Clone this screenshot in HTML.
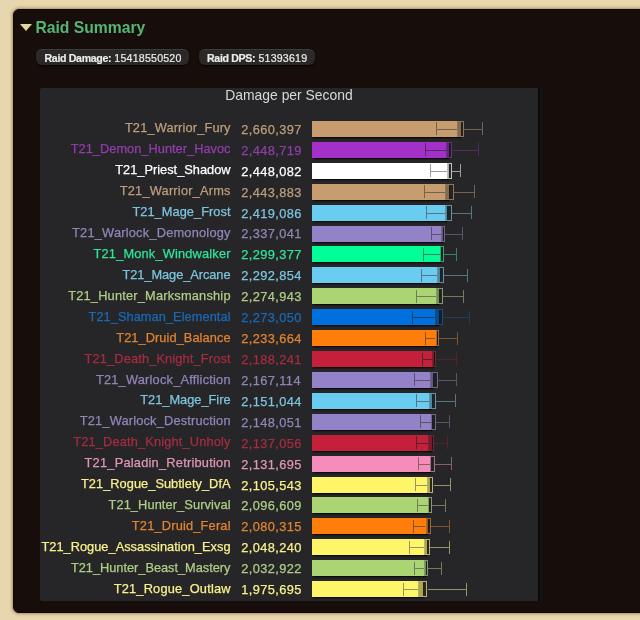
<!DOCTYPE html>
<html><head><meta charset="utf-8">
<style>
html,body{margin:0;padding:0;width:640px;height:620px;overflow:hidden;}
body{background:#e8d6ae;font-family:"Liberation Sans",sans-serif;position:relative;}
.wrap{position:absolute;left:0;top:0;width:640px;height:620px;overflow:hidden;will-change:transform;}
.panel{position:absolute;left:12.5px;top:9.2px;width:700px;height:604.3px;box-sizing:border-box;background:#170e0c;border:1px solid #0e0807;border-radius:6px;box-shadow:0 0 3px 1px rgba(70,50,25,0.45);}
.tri{position:absolute;left:20px;top:24px;width:0;height:0;border-left:6.6px solid transparent;border-right:6.6px solid transparent;border-top:7.2px solid #e3d79c;}
.title{position:absolute;left:35.4px;top:18.2px;font-weight:bold;font-size:15.7px;line-height:20px;color:#56b575;white-space:nowrap;}
.badge{position:absolute;top:48.7px;height:16.5px;border-radius:6px;background:#2b2828;color:#ececec;font-size:10.6px;line-height:17px;white-space:nowrap;box-shadow:0 1px 1.5px rgba(0,0,0,0.8), inset 0 1px 0 rgba(255,255,255,0.09);}
.badge b{font-weight:bold;letter-spacing:-0.33px;}
.badge span{-webkit-text-stroke:0.2px currentColor;letter-spacing:0.22px;}
.chart{position:absolute;left:40px;top:88px;width:498px;height:512.6px;background:#262527;border-radius:2px 1px 1px 2px;box-shadow:2px 0 0 #0c0b0b, 5px 0 0 #141212;}
.ctitle{position:absolute;left:40px;width:498px;top:85px;text-align:center;font-size:13.9px;line-height:20px;color:#d8d8d8;}
.lab{position:absolute;right:409.5px;font-size:12.8px;line-height:20px;white-space:nowrap;-webkit-text-stroke:0.25px currentColor;}
.val{position:absolute;left:241.2px;font-size:12.8px;line-height:20px;letter-spacing:0.42px;white-space:nowrap;-webkit-text-stroke:0.25px currentColor;}
.bar{position:absolute;height:16px;box-shadow:0.5px 1.5px 1.5px rgba(0,0,0,0.7);}
.si{position:absolute;height:1px;background:rgba(0,0,0,0.45);}
.wi{position:absolute;width:1px;background:rgba(0,0,0,0.45);}
.box{position:absolute;height:16px;box-sizing:border-box;border:1px solid #999;background:rgba(0,0,0,0.28);}
.so{position:absolute;height:1px;background:rgba(150,150,150,0.75);}
.wo{position:absolute;width:1px;background:rgba(150,150,150,0.75);}
</style></head><body>
<div class="wrap">
<div class="panel"></div>
<div class="tri"></div>
<div class="title">Raid Summary</div>
<div class="badge" style="left:36px;width:153px;"><span style="position:absolute;left:8.5px;top:0.9px"><b>Raid Damage:</b> 15418550520</span></div>
<div class="badge" style="left:199px;width:116px;"><span style="position:absolute;left:8px;top:0.9px"><b>Raid DPS:</b> 51393619</span></div>
<div class="chart"></div>
<div class="ctitle">Damage per Second</div>
<div class="lab" style="top:118.46px;color:rgb(189,158,125);letter-spacing:0.15px;right:409.35px">T21_Warrior_Fury</div>
<div class="val" style="top:119.86px;color:rgb(189,158,125)">2,660,397</div>
<div class="bar" style="top:120.9px;left:312.3px;width:148.45px;background:#c79c6e"></div>
<div class="si" style="top:128.9px;left:436.25px;width:20.75px;background:rgb(112,99,84)"></div>
<div class="wi" style="top:122.4px;left:435.75px;height:13.0px;background:rgb(112,99,84)"></div>
<div class="box" style="top:120.9px;left:457.0px;width:7.0px;border-color:rgb(135,119,102);background:rgba(39,31,22,0.4)"></div>
<div class="so" style="top:128.9px;left:464.0px;width:18.0px;background:rgb(112,99,84)"></div>
<div class="wo" style="top:122.4px;left:481.5px;height:13.0px;background:rgb(112,99,84)"></div>
<div class="lab" style="top:139.38px;color:rgb(145,62,172);letter-spacing:0.02px;right:409.48px">T21_Demon_Hunter_Havoc</div>
<div class="val" style="top:140.78px;color:rgb(145,62,172)">2,448,719</div>
<div class="bar" style="top:141.82px;left:312.3px;width:136.64px;background:#a330c9"></div>
<div class="si" style="top:149.82px;left:425.6px;width:20.0px;background:rgb(81,45,93)"></div>
<div class="wi" style="top:143.32px;left:425.1px;height:13.0px;background:rgb(81,45,93)"></div>
<div class="box" style="top:141.82px;left:445.6px;width:6.4px;border-color:rgb(98,55,112);background:rgba(32,9,40,0.4)"></div>
<div class="so" style="top:149.82px;left:452.0px;width:26.75px;background:rgb(81,45,93)"></div>
<div class="wo" style="top:143.32px;left:478.25px;height:13.0px;background:rgb(81,45,93)"></div>
<div class="lab" style="top:160.3px;color:rgb(255,255,255);letter-spacing:0.0px;right:409.5px">T21_Priest_Shadow</div>
<div class="val" style="top:161.7px;color:rgb(255,255,255)">2,448,082</div>
<div class="bar" style="top:162.74px;left:312.3px;width:136.6px;background:#ffffff"></div>
<div class="si" style="top:170.74px;left:430.0px;width:17.1px;background:rgb(158,158,158)"></div>
<div class="wi" style="top:164.24px;left:429.5px;height:13.0px;background:rgb(158,158,158)"></div>
<div class="box" style="top:162.74px;left:447.1px;width:4.5px;border-color:rgb(191,191,191);background:rgba(51,51,51,0.4)"></div>
<div class="so" style="top:170.74px;left:451.6px;width:8.8px;background:rgb(158,158,158)"></div>
<div class="wo" style="top:164.24px;left:459.9px;height:13.0px;background:rgb(158,158,158)"></div>
<div class="lab" style="top:181.22px;color:rgb(189,158,125);letter-spacing:0.21px;right:409.29px">T21_Warrior_Arms</div>
<div class="val" style="top:182.62px;color:rgb(189,158,125)">2,443,883</div>
<div class="bar" style="top:183.66px;left:312.3px;width:136.37px;background:#c79c6e"></div>
<div class="si" style="top:191.66px;left:424.5px;width:20.0px;background:rgb(112,99,84)"></div>
<div class="wi" style="top:185.16px;left:424.0px;height:13.0px;background:rgb(112,99,84)"></div>
<div class="box" style="top:183.66px;left:444.5px;width:9.0px;border-color:rgb(135,119,102);background:rgba(39,31,22,0.4)"></div>
<div class="so" style="top:191.66px;left:453.5px;width:20.7px;background:rgb(112,99,84)"></div>
<div class="wo" style="top:185.16px;left:473.7px;height:13.0px;background:rgb(112,99,84)"></div>
<div class="lab" style="top:202.14px;color:rgb(125,196,222);letter-spacing:0.05px;right:409.45px">T21_Mage_Frost</div>
<div class="val" style="top:203.54px;color:rgb(125,196,222)">2,419,086</div>
<div class="bar" style="top:204.58px;left:312.3px;width:134.98px;background:#69ccf0"></div>
<div class="si" style="top:212.58px;left:426.5px;width:18.0px;background:rgb(87,118,129)"></div>
<div class="wi" style="top:206.08px;left:426.0px;height:13.0px;background:rgb(87,118,129)"></div>
<div class="box" style="top:204.58px;left:444.5px;width:7.1px;border-color:rgb(106,143,156);background:rgba(21,40,48,0.4)"></div>
<div class="so" style="top:212.58px;left:451.6px;width:20.0px;background:rgb(87,118,129)"></div>
<div class="wo" style="top:206.08px;left:471.1px;height:13.0px;background:rgb(87,118,129)"></div>
<div class="lab" style="top:223.06px;color:rgb(146,133,184);letter-spacing:0.22px;right:409.28px">T21_Warlock_Demonology</div>
<div class="val" style="top:224.46px;color:rgb(146,133,184)">2,337,041</div>
<div class="bar" style="top:225.5px;left:312.3px;width:130.41px;background:#9482c9"></div>
<div class="si" style="top:233.5px;left:431.0px;width:9.6px;background:rgb(90,84,106)"></div>
<div class="wi" style="top:227.0px;left:430.5px;height:13.0px;background:rgb(90,84,106)"></div>
<div class="box" style="top:225.5px;left:440.6px;width:4.4px;border-color:rgb(109,102,129);background:rgba(29,26,40,0.4)"></div>
<div class="so" style="top:233.5px;left:445.0px;width:17.6px;background:rgb(90,84,106)"></div>
<div class="wo" style="top:227.0px;left:462.1px;height:13.0px;background:rgb(90,84,106)"></div>
<div class="lab" style="top:243.98px;color:rgb(46,230,154);letter-spacing:0.18px;right:409.32px">T21_Monk_Windwalker</div>
<div class="val" style="top:245.38px;color:rgb(46,230,154)">2,299,377</div>
<div class="bar" style="top:246.42px;left:312.3px;width:128.31px;background:#00ff96"></div>
<div class="si" style="top:254.42px;left:423.2px;width:16.8px;background:rgb(51,130,98)"></div>
<div class="wi" style="top:247.92px;left:422.7px;height:13.0px;background:rgb(51,130,98)"></div>
<div class="box" style="top:246.42px;left:440.0px;width:3.9px;border-color:rgb(62,158,118);background:rgba(0,51,30,0.4)"></div>
<div class="so" style="top:254.42px;left:443.9px;width:12.9px;background:rgb(51,130,98)"></div>
<div class="wo" style="top:247.92px;left:456.3px;height:13.0px;background:rgb(51,130,98)"></div>
<div class="lab" style="top:264.9px;color:rgb(125,196,222);letter-spacing:-0.06px;right:409.56px">T21_Mage_Arcane</div>
<div class="val" style="top:266.3px;color:rgb(125,196,222)">2,292,854</div>
<div class="bar" style="top:267.34px;left:312.3px;width:127.94px;background:#69ccf0"></div>
<div class="si" style="top:275.34px;left:421.3px;width:16.1px;background:rgb(87,118,129)"></div>
<div class="wi" style="top:268.84px;left:420.8px;height:13.0px;background:rgb(87,118,129)"></div>
<div class="box" style="top:267.34px;left:437.4px;width:6.5px;border-color:rgb(106,143,156);background:rgba(21,40,48,0.4)"></div>
<div class="so" style="top:275.34px;left:443.9px;width:23.8px;background:rgb(87,118,129)"></div>
<div class="wo" style="top:268.84px;left:467.2px;height:13.0px;background:rgb(87,118,129)"></div>
<div class="lab" style="top:285.82px;color:rgb(175,205,135);letter-spacing:0.2px;right:409.3px">T21_Hunter_Marksmanship</div>
<div class="val" style="top:287.22px;color:rgb(175,205,135)">2,274,943</div>
<div class="bar" style="top:288.26px;left:312.3px;width:126.94px;background:#abd473"></div>
<div class="si" style="top:296.26px;left:416.5px;width:19.6px;background:rgb(111,124,94)"></div>
<div class="wi" style="top:289.76px;left:416.0px;height:13.0px;background:rgb(111,124,94)"></div>
<div class="box" style="top:288.26px;left:436.1px;width:7.1px;border-color:rgb(134,150,113);background:rgba(34,42,23,0.4)"></div>
<div class="so" style="top:296.26px;left:443.2px;width:19.8px;background:rgb(111,124,94)"></div>
<div class="wo" style="top:289.76px;left:462.5px;height:13.0px;background:rgb(111,124,94)"></div>
<div class="lab" style="top:306.74px;color:rgb(25,106,185);letter-spacing:0.06px;right:409.44px">T21_Shaman_Elemental</div>
<div class="val" style="top:308.14px;color:rgb(25,106,185)">2,273,050</div>
<div class="bar" style="top:309.18px;left:312.3px;width:126.84px;background:#0070de"></div>
<div class="si" style="top:317.18px;left:412.3px;width:22.5px;background:rgb(28,62,97)"></div>
<div class="wi" style="top:310.68px;left:411.8px;height:13.0px;background:rgb(28,62,97)"></div>
<div class="box" style="top:309.18px;left:434.8px;width:8.4px;border-color:rgb(34,76,117);background:rgba(0,22,44,0.4)"></div>
<div class="so" style="top:317.18px;left:443.2px;width:26.5px;background:rgb(28,62,97)"></div>
<div class="wo" style="top:310.68px;left:469.2px;height:13.0px;background:rgb(28,62,97)"></div>
<div class="lab" style="top:327.66px;color:rgb(225,132,49);letter-spacing:0.07px;right:409.43px">T21_Druid_Balance</div>
<div class="val" style="top:329.06px;color:rgb(225,132,49)">2,233,664</div>
<div class="bar" style="top:330.1px;left:312.3px;width:124.64px;background:#ff7d0a"></div>
<div class="si" style="top:338.1px;left:425.2px;width:10.3px;background:rgb(125,85,49)"></div>
<div class="wi" style="top:331.6px;left:424.7px;height:13.0px;background:rgb(125,85,49)"></div>
<div class="box" style="top:330.1px;left:435.5px;width:3.9px;border-color:rgb(152,103,60);background:rgba(51,25,2,0.4)"></div>
<div class="so" style="top:338.1px;left:439.4px;width:18.0px;background:rgb(125,85,49)"></div>
<div class="wo" style="top:331.6px;left:456.9px;height:13.0px;background:rgb(125,85,49)"></div>
<div class="lab" style="top:348.58px;color:rgb(164,45,65);letter-spacing:0.14px;right:409.36px">T21_Death_Knight_Frost</div>
<div class="val" style="top:349.98px;color:rgb(164,45,65)">2,188,241</div>
<div class="bar" style="top:351.02px;left:312.3px;width:122.1px;background:#c41f3b"></div>
<div class="si" style="top:359.02px;left:422.0px;width:9.6px;background:rgb(86,35,44)"></div>
<div class="wi" style="top:352.52px;left:421.5px;height:13.0px;background:rgb(86,35,44)"></div>
<div class="box" style="top:351.02px;left:431.6px;width:4.4px;border-color:rgb(104,42,53);background:rgba(39,6,11,0.4)"></div>
<div class="so" style="top:359.02px;left:436.0px;width:20.8px;background:rgb(86,35,44)"></div>
<div class="wo" style="top:352.52px;left:456.3px;height:13.0px;background:rgb(86,35,44)"></div>
<div class="lab" style="top:369.5px;color:rgb(146,133,184);letter-spacing:0.21px;right:409.29px">T21_Warlock_Affliction</div>
<div class="val" style="top:370.9px;color:rgb(146,133,184)">2,167,114</div>
<div class="bar" style="top:371.94px;left:312.3px;width:120.92px;background:#9482c9"></div>
<div class="si" style="top:379.94px;left:414.2px;width:16.1px;background:rgb(90,84,106)"></div>
<div class="wi" style="top:373.44px;left:413.7px;height:13.0px;background:rgb(90,84,106)"></div>
<div class="box" style="top:371.94px;left:430.3px;width:7.7px;border-color:rgb(109,102,129);background:rgba(29,26,40,0.4)"></div>
<div class="so" style="top:379.94px;left:438.0px;width:18.8px;background:rgb(90,84,106)"></div>
<div class="wo" style="top:373.44px;left:456.3px;height:13.0px;background:rgb(90,84,106)"></div>
<div class="lab" style="top:390.42px;color:rgb(125,196,222);letter-spacing:-0.01px;right:409.51px">T21_Mage_Fire</div>
<div class="val" style="top:391.82px;color:rgb(125,196,222)">2,151,044</div>
<div class="bar" style="top:392.86px;left:312.3px;width:120.03px;background:#69ccf0"></div>
<div class="si" style="top:400.86px;left:416.5px;width:12.5px;background:rgb(87,118,129)"></div>
<div class="wi" style="top:394.36px;left:416.0px;height:13.0px;background:rgb(87,118,129)"></div>
<div class="box" style="top:392.86px;left:429.0px;width:7.0px;border-color:rgb(106,143,156);background:rgba(21,40,48,0.4)"></div>
<div class="so" style="top:400.86px;left:436.0px;width:19.5px;background:rgb(87,118,129)"></div>
<div class="wo" style="top:394.36px;left:455.0px;height:13.0px;background:rgb(87,118,129)"></div>
<div class="lab" style="top:411.34px;color:rgb(146,133,184);letter-spacing:0.18px;right:409.32px">T21_Warlock_Destruction</div>
<div class="val" style="top:412.74px;color:rgb(146,133,184)">2,148,051</div>
<div class="bar" style="top:413.78px;left:312.3px;width:119.86px;background:#9482c9"></div>
<div class="si" style="top:421.78px;left:420.4px;width:10.6px;background:rgb(90,84,106)"></div>
<div class="wi" style="top:415.28px;left:419.9px;height:13.0px;background:rgb(90,84,106)"></div>
<div class="box" style="top:413.78px;left:431.0px;width:4.5px;border-color:rgb(109,102,129);background:rgba(29,26,40,0.4)"></div>
<div class="so" style="top:421.78px;left:435.5px;width:13.9px;background:rgb(90,84,106)"></div>
<div class="wo" style="top:415.28px;left:448.9px;height:13.0px;background:rgb(90,84,106)"></div>
<div class="lab" style="top:432.26px;color:rgb(164,45,65);letter-spacing:0.16px;right:409.34px">T21_Death_Knight_Unholy</div>
<div class="val" style="top:433.66px;color:rgb(164,45,65)">2,137,056</div>
<div class="bar" style="top:434.7px;left:312.3px;width:119.25px;background:#c41f3b"></div>
<div class="si" style="top:442.7px;left:416.8px;width:11.6px;background:rgb(86,35,44)"></div>
<div class="wi" style="top:436.2px;left:416.3px;height:13.0px;background:rgb(86,35,44)"></div>
<div class="box" style="top:434.7px;left:428.4px;width:5.8px;border-color:rgb(104,42,53);background:rgba(39,6,11,0.4)"></div>
<div class="so" style="top:442.7px;left:434.2px;width:13.5px;background:rgb(86,35,44)"></div>
<div class="wo" style="top:436.2px;left:447.2px;height:13.0px;background:rgb(86,35,44)"></div>
<div class="lab" style="top:453.18px;color:rgb(225,150,183);letter-spacing:0.23px;right:409.27px">T21_Paladin_Retribution</div>
<div class="val" style="top:454.58px;color:rgb(225,150,183)">2,131,695</div>
<div class="bar" style="top:455.62px;left:312.3px;width:118.95px;background:#f58cba"></div>
<div class="si" style="top:463.62px;left:418.0px;width:11.7px;background:rgb(130,98,112)"></div>
<div class="wi" style="top:457.12px;left:417.5px;height:13.0px;background:rgb(130,98,112)"></div>
<div class="box" style="top:455.62px;left:429.7px;width:4.9px;border-color:rgb(158,118,135);background:rgba(49,28,37,0.4)"></div>
<div class="so" style="top:463.62px;left:434.6px;width:16.4px;background:rgb(130,98,112)"></div>
<div class="wo" style="top:457.12px;left:450.5px;height:13.0px;background:rgb(130,98,112)"></div>
<div class="lab" style="top:474.1px;color:rgb(248,241,140);letter-spacing:0.04px;right:409.46px">T21_Rogue_Subtlety_DfA</div>
<div class="val" style="top:475.5px;color:rgb(248,241,140)">2,105,543</div>
<div class="bar" style="top:476.54px;left:312.3px;width:117.49px;background:#fff569"></div>
<div class="si" style="top:484.54px;left:415.2px;width:11.9px;background:rgb(150,147,104)"></div>
<div class="wi" style="top:478.04px;left:414.7px;height:13.0px;background:rgb(150,147,104)"></div>
<div class="box" style="top:476.54px;left:427.1px;width:6.4px;border-color:rgb(182,178,126);background:rgba(51,49,21,0.4)"></div>
<div class="so" style="top:484.54px;left:433.5px;width:16.5px;background:rgb(150,147,104)"></div>
<div class="wo" style="top:478.04px;left:449.5px;height:13.0px;background:rgb(150,147,104)"></div>
<div class="lab" style="top:495.02px;color:rgb(175,205,135);letter-spacing:0.1px;right:409.4px">T21_Hunter_Survival</div>
<div class="val" style="top:496.42px;color:rgb(175,205,135)">2,096,609</div>
<div class="bar" style="top:497.46px;left:312.3px;width:116.99px;background:#abd473"></div>
<div class="si" style="top:505.46px;left:417.7px;width:10.3px;background:rgb(111,124,94)"></div>
<div class="wi" style="top:498.96px;left:417.2px;height:13.0px;background:rgb(111,124,94)"></div>
<div class="box" style="top:497.46px;left:428.0px;width:4.0px;border-color:rgb(134,150,113);background:rgba(34,42,23,0.4)"></div>
<div class="so" style="top:505.46px;left:432.0px;width:13.5px;background:rgb(111,124,94)"></div>
<div class="wo" style="top:498.96px;left:445.0px;height:13.0px;background:rgb(111,124,94)"></div>
<div class="lab" style="top:515.94px;color:rgb(225,132,49);letter-spacing:0.19px;right:409.31px">T21_Druid_Feral</div>
<div class="val" style="top:517.34px;color:rgb(225,132,49)">2,080,315</div>
<div class="bar" style="top:518.38px;left:312.3px;width:116.08px;background:#ff7d0a"></div>
<div class="si" style="top:526.38px;left:413.9px;width:11.6px;background:rgb(125,85,49)"></div>
<div class="wi" style="top:519.88px;left:413.4px;height:13.0px;background:rgb(125,85,49)"></div>
<div class="box" style="top:518.38px;left:425.5px;width:5.8px;border-color:rgb(152,103,60);background:rgba(51,25,2,0.4)"></div>
<div class="so" style="top:526.38px;left:431.3px;width:18.3px;background:rgb(125,85,49)"></div>
<div class="wo" style="top:519.88px;left:449.1px;height:13.0px;background:rgb(125,85,49)"></div>
<div class="lab" style="top:536.86px;color:rgb(248,241,140);letter-spacing:0.02px;right:409.48px">T21_Rogue_Assassination_Exsg</div>
<div class="val" style="top:538.26px;color:rgb(248,241,140)">2,048,240</div>
<div class="bar" style="top:539.3px;left:312.3px;width:114.29px;background:#fff569"></div>
<div class="si" style="top:547.3px;left:409.4px;width:14.8px;background:rgb(150,147,104)"></div>
<div class="wi" style="top:540.8px;left:408.9px;height:13.0px;background:rgb(150,147,104)"></div>
<div class="box" style="top:539.3px;left:424.2px;width:5.8px;border-color:rgb(182,178,126);background:rgba(51,49,21,0.4)"></div>
<div class="so" style="top:547.3px;left:430.0px;width:19.1px;background:rgb(150,147,104)"></div>
<div class="wo" style="top:540.8px;left:448.6px;height:13.0px;background:rgb(150,147,104)"></div>
<div class="lab" style="top:557.78px;color:rgb(175,205,135);letter-spacing:-0.02px;right:409.52px">T21_Hunter_Beast_Mastery</div>
<div class="val" style="top:559.18px;color:rgb(175,205,135)">2,032,922</div>
<div class="bar" style="top:560.22px;left:312.3px;width:113.44px;background:#abd473"></div>
<div class="si" style="top:568.22px;left:414.4px;width:10.0px;background:rgb(111,124,94)"></div>
<div class="wi" style="top:561.72px;left:413.9px;height:13.0px;background:rgb(111,124,94)"></div>
<div class="box" style="top:560.22px;left:424.4px;width:3.7px;border-color:rgb(134,150,113);background:rgba(34,42,23,0.4)"></div>
<div class="so" style="top:568.22px;left:428.1px;width:13.15px;background:rgb(111,124,94)"></div>
<div class="wo" style="top:561.72px;left:440.75px;height:13.0px;background:rgb(111,124,94)"></div>
<div class="lab" style="top:578.7px;color:rgb(248,241,140);letter-spacing:0.2px;right:409.3px">T21_Rogue_Outlaw</div>
<div class="val" style="top:580.1px;color:rgb(248,241,140)">1,975,695</div>
<div class="bar" style="top:581.14px;left:312.3px;width:110.24px;background:#fff569"></div>
<div class="si" style="top:589.14px;left:403.1px;width:15.0px;background:rgb(150,147,104)"></div>
<div class="wi" style="top:582.64px;left:402.6px;height:13.0px;background:rgb(150,147,104)"></div>
<div class="box" style="top:581.14px;left:418.1px;width:9.4px;border-color:rgb(182,178,126);background:rgba(51,49,21,0.4)"></div>
<div class="so" style="top:589.14px;left:427.5px;width:39.0px;background:rgb(150,147,104)"></div>
<div class="wo" style="top:582.64px;left:466.0px;height:13.0px;background:rgb(150,147,104)"></div>
</div>
</body></html>
